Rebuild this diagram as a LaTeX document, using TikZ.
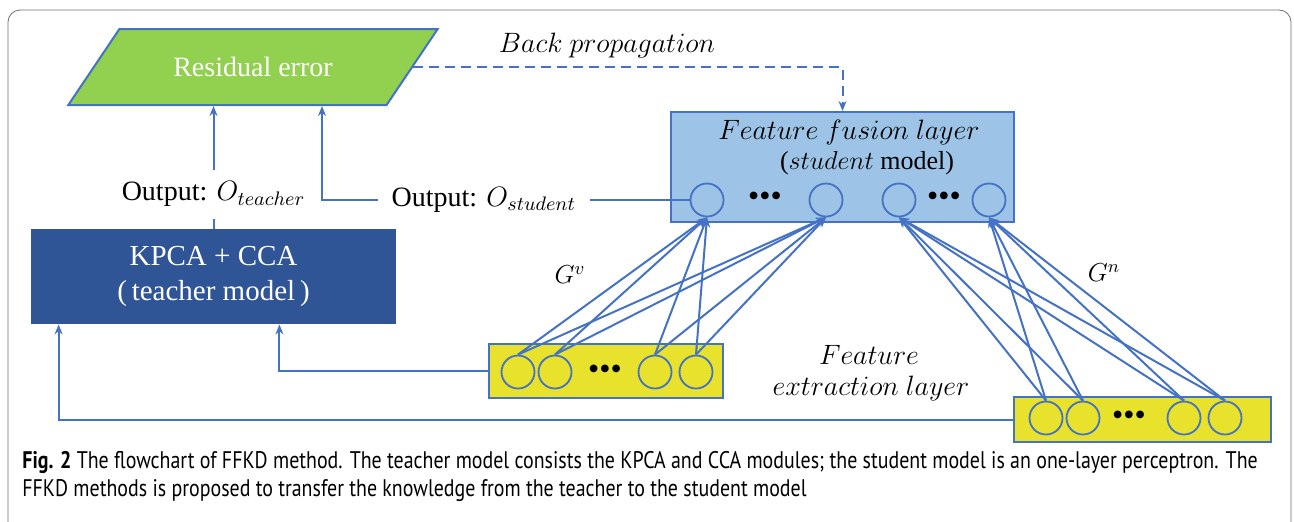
\RequirePackage{fix-cm}
\documentclass[tikz,border=0pt]{standalone}
\usepackage{amsmath}
\usepackage{fontspec}
\setmainfont{Liberation Serif}
\newfontfamily\capfont[FakeStretch=0.83]{PT Sans}
\usetikzlibrary{arrows.meta,shapes.geometric}
\definecolor{lineblue}{RGB}{68,114,196}
\definecolor{resgreen}{RGB}{146,208,80}
\definecolor{teachblue}{RGB}{47,85,151}
\definecolor{fusblue}{RGB}{157,195,230}
\definecolor{extyellow}{RGB}{232,226,44}
\definecolor{framegray}{RGB}{110,110,110}

\begin{document}
\begin{tikzpicture}[x=0.5pt,y=-0.5pt,
  link/.style={draw=lineblue, line width=1pt, -{Stealth[length=5pt,width=4pt]}},
  unit/.style={circle, draw=lineblue, line width=0.9pt, minimum size=16.5pt, inner sep=0pt},
  dots/.style={font=\fontsize{16}{16}\selectfont, inner sep=0pt},
  layer/.style={draw=lineblue, line width=1pt, inner sep=0pt},
  lbl/.style={font=\fontsize{14}{16}\selectfont},
  outlbl/.style={fill=white, font=\fontsize{14}{16}\selectfont}]
  \useasboundingbox (0,0) rectangle (1294,521);
  \draw[framegray, rounded corners=6pt] (8,10) rectangle (1291,560);

  \node[trapezium, trapezium left angle=45, trapezium right angle=135, trapezium stretches=true,
    minimum width=185pt, minimum height=38pt, fill=resgreen, draw=lineblue, line width=1pt,
    text=white, font=\fontsize{14}{16}\selectfont] (resid) at (253,67) {Residual error};
  \node[fill=teachblue, minimum width=182.5pt, minimum height=47.5pt, text=white, align=center,
    font=\fontsize{14.5}{17.5}\selectfont] (teacher) at (213.5,276.5) {KPCA + CCA\\(\,teacher model\,)};

  \node[layer, fill=fusblue, minimum width=171.5pt, minimum height=55pt] (fusion) at (842.5,167) {};
  \node[lbl] (fustitle) at (849,132) {$Feature\ fusion\ layer$};
  \node[font=\fontsize{13}{15}\selectfont] (fussub) at (867,163) {($student$ model)};
  \node[unit] (f1) at (707,200) {};
  \node[unit] (f2) at (826,200) {};
  \node[unit] (f3) at (899,200) {};
  \node[unit] (f4) at (989,200) {};
  \node[dots] (fdots1) at (765,199) {\textbullet\textbullet\textbullet};
  \node[dots] (fdots2) at (944,199) {\textbullet\textbullet\textbullet};

  \node[layer, fill=extyellow, minimum width=117pt, minimum height=27pt] (ext1) at (605.5,371) {};
  \node[unit] (v1) at (518,372) {};
  \node[unit] (v2) at (555,372) {};
  \node[unit] (v3) at (655,372) {};
  \node[unit] (v4) at (696,372) {};
  \node[dots] (vdots) at (605,372) {\textbullet\textbullet\textbullet};

  \node[layer, fill=extyellow, minimum width=128.5pt, minimum height=22.5pt] (ext2) at (1142.5,419.5) {};
  \node[unit] (n1) at (1046,418) {};
  \node[unit] (n2) at (1083,418) {};
  \node[unit] (n3) at (1184,418) {};
  \node[unit] (n4) at (1225,418) {};
  \node[dots] (ndots) at (1129,418) {\textbullet\textbullet\textbullet};

  \foreach \i in {1,...,4} {
    \foreach \j in {1,2} \draw[link] (v\i.north) -- (f\j.south);
    \foreach \j in {3,4} \draw[link] (n\i.north) -- (f\j.south);
  }

  \node[font=\fontsize{13}{15}\selectfont] (gv) at (570,275) {$G^v$};
  \node[font=\fontsize{13}{15}\selectfont] (gn) at (1104,273) {$G^n$};
  \node[lbl] (feat) at (869,355) {$Feature$};
  \node[lbl] (extl) at (871,388) {$extraction\ layer$};

  \draw[link, dashed, dash pattern=on 5pt off 3pt] (resid.east) -| (fusion.north);
  \node[lbl] (backprop) at (607,45) {$Back\ propagation$};

  \draw[link] (teacher.north) -- node[pos=0.28, outlbl, inner ysep=6pt]
    {Output: $O_{teacher}$} (teacher.north |- resid.south);
  \coordinate (bend) at (322,200);
  \draw[link] (f1.west) -- node[pos=0.56, outlbl, inner xsep=7pt]
    {Output: $O_{student}$} (bend) -- (bend |- resid.south);

  \draw[link] (ext1.west) -| ([xshift=-58.5pt]teacher.south east);
  \draw[link] (ext2.west) -| ([xshift=14pt]teacher.south west);

  \node[anchor=north west, align=left, inner sep=0pt, font=\capfont\fontsize{12}{14}\selectfont] (caption) at (22,451)
    {\textbf{Fig. 2} The flowchart of FFKD method. The teacher model consists the KPCA and CCA modules; the student model is an one-layer perceptron. The\\
     FFKD methods is proposed to transfer the knowledge from the teacher to the student model};
\end{tikzpicture}
\end{document}
